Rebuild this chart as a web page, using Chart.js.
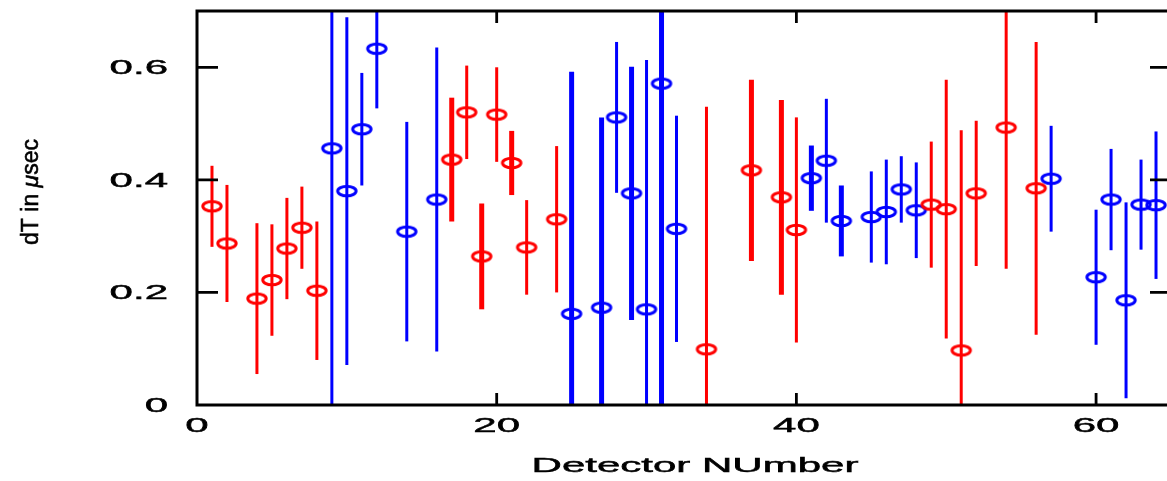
<!DOCTYPE html>
<html>
<head>
<meta charset="utf-8">
<script src="https://cdn.jsdelivr.net/npm/chart.js@4"></script>
<style>
    html, body { margin: 0; padding: 0; background: #fff; overflow: hidden; }
    #wrap { width: 1185px; height: 481px; position: relative; }
</style>
</head>
<body>
<div id="wrap"><canvas id="dtChart"></canvas></div>
<script>
// Rows are [detector, dT, error].
const redPoints = [
    [1, 0.353, 0.072], [2, 0.287, 0.104], [4, 0.189, 0.134], [5, 0.222, 0.099],
    [6, 0.278, 0.090], [7, 0.315, 0.073], [8, 0.203, 0.123], [18, 0.520, 0.083],
    [20, 0.516, 0.084], [22, 0.280, 0.084], [24, 0.330, 0.130], [34, 0.099, 0.431],
    [40, 0.311, 0.200], [49, 0.356, 0.112], [50, 0.348, 0.230], [51, 0.097, 0.391],
    [52, 0.376, 0.129], [54, 0.493, 0.251], [56, 0.385, 0.260]
];
const redWide = [
    [17, 0.436, 0.110], [19, 0.264, 0.094], [21, 0.430, 0.057], [37, 0.417, 0.161],
    [39, 0.369, 0.173]
];
const bluePoints = [
    [9, 0.456, 0.500], [10, 0.380, 0.309], [11, 0.490, 0.100], [12, 0.633, 0.106],
    [14, 0.308, 0.195], [16, 0.365, 0.270], [28, 0.511, 0.134], [30, 0.170, 0.443],
    [32, 0.313, 0.201], [42, 0.434, 0.110], [45, 0.334, 0.081], [46, 0.343, 0.093],
    [47, 0.383, 0.059], [48, 0.346, 0.085], [57, 0.402, 0.094], [60, 0.227, 0.120],
    [61, 0.365, 0.090], [62, 0.186, 0.174], [63, 0.356, 0.080], [64, 0.355, 0.131]
];
const blueWide = [
    [25, 0.162, 0.430], [27, 0.173, 0.338], [29, 0.376, 0.225], [31, 0.571, 0.600],
    [41, 0.403, 0.058], [43, 0.327, 0.063]
];
const xTicks = [0, 20, 40, 60];
const yTicks = [0, 0.2, 0.4, 0.6];
const xTitle = 'Detector NUmber';
// y title in three pieces, the mu is set in italics
const yTitleParts = ['dT in ', '\u03bc', 'sec'];

const RED = '#ff0000';
const BLUE = '#0000ff';

// open ellipse marker
function ringStyle(color) {
    const c = document.createElement('canvas');
    c.width = 26;
    c.height = 16;
    const ctx = c.getContext('2d');
    ctx.strokeStyle = color;
    ctx.lineWidth = 3;
    ctx.beginPath();
    ctx.ellipse(13, 8, 9.2, 4.7, 0, 0, 2 * Math.PI);
    ctx.stroke();
    return c;
}

function makeSet(rows, color, barWidth) {
    return {
        data: rows.map(r => ({x: r[0], y: r[1], err: r[2]})),
        pointStyle: ringStyle(color),
        pointRadius: 10,
        barColor: color,
        barWidth: barWidth,
        showLine: false
    };
}

// stretched text, the original plot fonts are twice as wide as tall
function wideText(ctx, text, x, y, align) {
    ctx.save();
    ctx.translate(x, y);
    ctx.scale(2, 1);
    ctx.textAlign = align;
    ctx.lineWidth = 0.5;
    ctx.fillText(text, 0, 0);
    ctx.strokeText(text, 0, 0);
    ctx.restore();
}

const errorBars = {
    id: 'errorBars',
    beforeDatasetsDraw(chart) {
        const {ctx, chartArea, scales} = chart;
        ctx.save();
        ctx.beginPath();
        ctx.rect(chartArea.left, chartArea.top, chartArea.right - chartArea.left, chartArea.bottom - chartArea.top);
        ctx.clip();
        chart.data.datasets.forEach((ds) => {
            ctx.strokeStyle = ds.barColor;
            ctx.lineWidth = ds.barWidth;
            ds.data.forEach((p) => {
                const x = scales.x.getPixelForValue(p.x);
                ctx.beginPath();
                ctx.moveTo(x, scales.y.getPixelForValue(p.y - p.err));
                ctx.lineTo(x, scales.y.getPixelForValue(p.y + p.err));
                ctx.stroke();
            });
        });
        ctx.restore();
    }
};

const frame = {
    id: 'frame',
    afterDraw(chart) {
        const {ctx, chartArea, scales} = chart;
        const {left, right, top, bottom} = chartArea;
        ctx.save();
        ctx.strokeStyle = '#000';
        ctx.lineWidth = 3;
        ctx.strokeRect(left, top, right - left, bottom - top);

        ctx.lineWidth = 2.8;
        xTicks.forEach((v) => {
            if (v === scales.x.min) return;
            const x = scales.x.getPixelForValue(v);
            ctx.beginPath();
            ctx.moveTo(x, bottom);
            ctx.lineTo(x, bottom - 12);
            ctx.moveTo(x, top);
            ctx.lineTo(x, top + 12);
            ctx.stroke();
        });
        yTicks.forEach((v) => {
            if (v === scales.y.min) return;
            const y = scales.y.getPixelForValue(v);
            ctx.beginPath();
            ctx.moveTo(left, y);
            ctx.lineTo(left + 21, y);
            ctx.moveTo(right, y);
            ctx.lineTo(right - 21, y);
            ctx.stroke();
        });

        ctx.fillStyle = '#000';
        ctx.font = '21px "Liberation Sans", Arial, sans-serif';
        ctx.textBaseline = 'middle';
        yTicks.forEach((v) => {
            wideText(ctx, String(v), left - 29, scales.y.getPixelForValue(v) + 1, 'right');
        });
        xTicks.forEach((v) => {
            wideText(ctx, String(v), scales.x.getPixelForValue(v), bottom + 21, 'center');
        });
        wideText(ctx, xTitle, 695, bottom + 61, 'center');

        // vertical axis title
        const fonts = [
            '23px "Liberation Sans", Arial, sans-serif',
            'italic 23px "Liberation Sans", Arial, sans-serif',
            '23px "Liberation Sans", Arial, sans-serif'
        ];
        let total = 0;
        const widths = yTitleParts.map((t, i) => {
            ctx.font = fonts[i];
            const w = ctx.measureText(t).width;
            total += w;
            return w;
        });
        ctx.save();
        ctx.translate(38, 192);
        ctx.rotate(-Math.PI / 2);
        ctx.textAlign = 'left';
        ctx.textBaseline = 'alphabetic';
        ctx.lineWidth = 0.6;
        let pos = -total / 2;
        yTitleParts.forEach((t, i) => {
            ctx.font = fonts[i];
            ctx.fillText(t, pos, 0);
            ctx.strokeText(t, pos, 0);
            pos += widths[i];
        });
        ctx.restore();
        ctx.restore();
    }
};

new Chart(document.getElementById('dtChart').getContext('2d'), {
    type: 'scatter',
    data: {
        datasets: [
            makeSet(redPoints, RED, 3),
            makeSet(redWide, RED, 5),
            makeSet(bluePoints, BLUE, 3),
            makeSet(blueWide, BLUE, 5)
        ]
    },
    options: {
        responsive: true,
        maintainAspectRatio: false,
        animation: false,
        events: [],
        layout: {
            padding: {left: 197, top: 9, right: 14, bottom: 76}
        },
        plugins: {
            legend: {display: false},
            tooltip: {enabled: false}
        },
        scales: {
            x: {type: 'linear', min: 0, max: 65, display: false},
            y: {type: 'linear', min: 0, max: 0.7, display: false}
        }
    },
    plugins: [errorBars, frame]
});
</script>
</body>
</html>
